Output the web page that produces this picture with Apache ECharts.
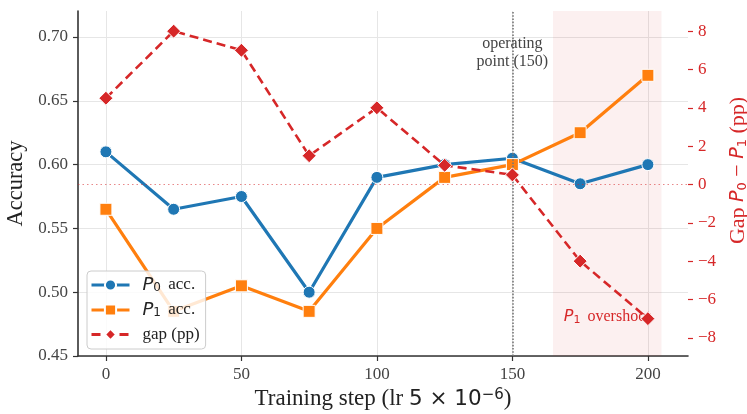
<!DOCTYPE html>
<html>
<head>
<meta charset="utf-8">
<script src="https://cdn.jsdelivr.net/npm/echarts@6/dist/echarts.min.js"></script>
<style>html,body{margin:0;padding:0;background:#fff}#c{width:747px;height:414px}</style>
</head>
<body>
<div id="c"></div>
<script>
const steps = [0, 25, 50, 75, 100, 125, 150, 175, 200];
const p0Acc = [0.61, 0.565, 0.575, 0.50, 0.59, 0.60, 0.605, 0.585, 0.60];
const p1Acc = [0.565, 0.485, 0.505, 0.485, 0.55, 0.59, 0.60, 0.625, 0.67];
const gapPP = [4.5, 8, 7, 1.5, 4, 1, 0.5, -4, -7];
const xTicks = [0, 50, 100, 150, 200];
const yTicks = [0.45, 0.50, 0.55, 0.60, 0.65, 0.70];
const gapTicks = [-8, -6, -4, -2, 0, 2, 4, 6, 8];
const operatingStep = 150;
const overshootRange = [165, 205];

const SERIF = '"Liberation Serif", "DejaVu Serif", serif';
const SANS = '"DejaVu Sans", sans-serif';
const BLUE = '#1f77b4', ORANGE = '#ff7f0e', RED = '#d62728';

const pairs = a => steps.map((s, i) => [s, a[i]]);
const minus = v => String(v).replace('-', '\u2212');

const chart = echarts.init(document.getElementById('c'), null, {renderer: 'canvas'});
chart.setOption({
  animation: false,
  backgroundColor: '#fff',
  grid: {left: 78, right: 59, top: 11, bottom: 58, containLabel: false, outerBoundsMode: 'none'},
  legend: {
    orient: 'vertical', left: 87, top: 271, zlevel: 1, z: 20,
    itemWidth: 38, itemHeight: 14, itemGap: 7,
    padding: [5, 6, 6, 3],
    backgroundColor: 'rgba(255,255,255,0.82)',
    borderColor: '#cccccc', borderWidth: 1, borderRadius: 4,
    lineStyle: {width: 3},
    data: ['p0', 'p1', 'gap'],
    formatter: n => ({p0: '{i|P}{s|0} acc.', p1: '{i|P}{s|1} acc.', gap: 'gap (pp)'}[n]),
    textStyle: {
      fontFamily: SERIF, fontSize: 17, color: '#222', padding: [0, 0, 0, 8],
      rich: {
        i: {fontFamily: SANS, fontStyle: 'italic', fontSize: 18, color: '#222'},
        s: {fontFamily: SANS, fontSize: 12, color: '#222', verticalAlign: 'bottom', padding: [6, 3, 0, 0]}
      }
    }
  },
  xAxis: {
    type: 'value', min: -10.3, max: 214.8,
    name: 'Training step (lr {m|5 × 10}{sup|\u22126}{n|)}',
    nameLocation: 'middle', nameGap: 31,
    nameTextStyle: {
      fontFamily: SERIF, fontSize: 23, color: '#222',
      rich: {
        m: {fontFamily: SANS, fontSize: 21.5, color: '#222'},
        sup: {fontFamily: SANS, fontSize: 15, color: '#222', verticalAlign: 'top', padding: [0, 0, 8, 0]},
        n: {fontFamily: SERIF, fontSize: 23, color: '#222'}
      }
    },
    axisLine: {show: true, onZero: false, lineStyle: {color: '#333', width: 1.6}},
    axisTick: {show: true, length: 5, customValues: xTicks, lineStyle: {color: '#333', width: 1.2}},
    axisLabel: {customValues: xTicks, fontFamily: SERIF, fontSize: 17, color: '#444', margin: 10},
    splitLine: {show: true, customValues: xTicks, lineStyle: {color: '#e6e6e6', width: 1}}
  },
  yAxis: [{
    type: 'value', min: 0.45, max: 0.7204, position: 'left',
    name: 'Accuracy', nameLocation: 'middle', nameGap: 50, nameRotate: 90,
    nameTextStyle: {fontFamily: SERIF, fontSize: 22.5, color: '#222'},
    axisLine: {show: true, onZero: false, lineStyle: {color: '#333', width: 1.6}},
    axisTick: {show: true, length: 5, customValues: yTicks, lineStyle: {color: '#333', width: 1.2}},
    axisLabel: {customValues: yTicks, formatter: v => v.toFixed(2), fontFamily: SERIF, fontSize: 17, color: '#444', margin: 10},
    splitLine: {show: true, customValues: yTicks, lineStyle: {color: '#e6e6e6', width: 1}}
  }, {
    type: 'value', min: -8.95, max: 9.05, position: 'right',
    name: 'Gap {i|P}{s|0} \u2212 {i|P}{s|1} (pp)', nameLocation: 'middle', nameGap: 36, nameRotate: 90,
    nameTextStyle: {
      fontFamily: SERIF, fontSize: 22, color: RED, padding: [0, 0, 0, 26],
      rich: {
        i: {fontFamily: SANS, fontStyle: 'italic', fontSize: 19, color: RED},
        s: {fontFamily: SANS, fontSize: 13, color: RED, verticalAlign: 'bottom', padding: [8, 0, 0, 0]}
      }
    },
    axisLine: {show: false, onZero: false},
    axisTick: {show: true, length: 5, customValues: gapTicks, lineStyle: {color: RED, width: 1.2}},
    axisLabel: {customValues: gapTicks, formatter: v => minus(v), fontFamily: SERIF, fontSize: 17, color: RED, margin: 10},
    splitLine: {show: false}
  }],
  series: [{
    name: 'p0', type: 'line', data: pairs(p0Acc), yAxisIndex: 0, z: 3,
    symbol: 'circle', symbolSize: 12,
    lineStyle: {color: BLUE, width: 3.2},
    itemStyle: {color: BLUE, borderColor: '#fff', borderWidth: 1},
    markLine: {
      silent: true, symbol: 'none', label: {show: false},
      lineStyle: {color: '#777', type: 'dotted', width: 1.6},
      data: [{xAxis: operatingStep}]
    },
    markArea: {
      silent: true, itemStyle: {color: 'rgba(214,39,40,0.07)'},
      data: [[{xAxis: overshootRange[0]}, {xAxis: overshootRange[1]}]]
    },
    markPoint: {
      symbol: 'circle', symbolSize: 0,
      label: {show: true, position: 'inside', formatter: 'operating\npoint (150)',
        fontFamily: SERIF, fontSize: 16, color: '#444', lineHeight: 18},
      data: [{coord: [operatingStep, 0.6875]}]
    }
  }, {
    name: 'p1', type: 'line', data: pairs(p1Acc), yAxisIndex: 0, z: 4,
    symbol: 'rect', symbolSize: 12,
    lineStyle: {color: ORANGE, width: 3.2},
    itemStyle: {color: ORANGE, borderColor: '#fff', borderWidth: 1}
  }, {
    name: 'gap', type: 'line', data: pairs(gapPP), yAxisIndex: 1, z: 5,
    symbol: 'diamond', symbolSize: 14,
    lineStyle: {color: RED, width: 2.6, type: [9, 5]},
    itemStyle: {color: RED, borderColor: '#fff', borderWidth: 1},
    markLine: {
      silent: true, symbol: 'none', label: {show: false},
      lineStyle: {color: 'rgba(214,39,40,0.55)', type: [1.5, 3], width: 1.2},
      data: [{yAxis: 0}]
    },
    markPoint: {
      symbol: 'circle', symbolSize: 0, z: 1,
      label: {show: true, position: 'inside', formatter: '{i|P}{s|1} overshoot',
        fontFamily: SERIF, fontSize: 16, color: RED,
        rich: {
          i: {fontFamily: SANS, fontStyle: 'italic', fontSize: 16, color: RED},
          s: {fontFamily: SANS, fontSize: 11, color: RED, verticalAlign: 'bottom', padding: [6, 3, 0, 0]}
        }},
      data: [{coord: [185, -6.9]}]
    }
  }]
});
</script>
</body>
</html>
